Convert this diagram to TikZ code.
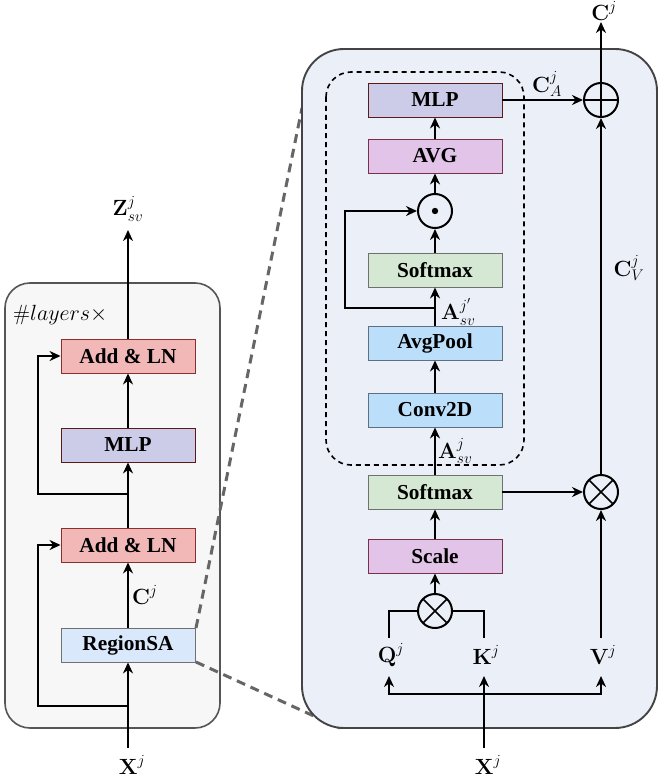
\RequirePackage{fix-cm}
\documentclass[tikz,border=0pt]{standalone}
\usepackage{fontspec}
\newfontfamily\boxfont{Liberation Serif}
\newcommand{\bvec}[1]{\textbf{#1}}
\usetikzlibrary{arrows.meta}
\definecolor{leftbg}{HTML}{F7F7F7}
\definecolor{leftbd}{HTML}{555555}
\definecolor{rightbg}{HTML}{EBEFF8}
\definecolor{rightbd}{HTML}{444444}
\definecolor{addfill}{HTML}{F2B8B8}
\definecolor{addbd}{HTML}{8B2E2E}
\definecolor{mlpfill}{HTML}{CCCCE8}
\definecolor{mlpbd}{HTML}{5A1A1A}
\definecolor{rsafill}{HTML}{DAE8FC}
\definecolor{grbd}{HTML}{707070}
\definecolor{avgfill}{HTML}{E1C4E8}
\definecolor{avgbd}{HTML}{7A2E4A}
\definecolor{smfill}{HTML}{D5E8D4}
\definecolor{convfill}{HTML}{BBDEFB}
\definecolor{convbd}{HTML}{5F6F80}
\definecolor{zoomln}{HTML}{666666}
\begin{document}
\begin{tikzpicture}[x=1pt,y=-1pt, font=\fontsize{22}{26}\selectfont,
 box/.style={draw, line width=0.9pt, minimum width=134pt, minimum height=34pt, inner sep=0pt,
   font=\fontsize{21.3}{24}\selectfont\boxfont\bfseries},
 arr/.style={line width=2pt, -{Stealth[length=11pt,width=10pt]}},
 ln/.style={line width=2pt},
 op/.style={circle, draw, line width=2pt, minimum size=34pt, inner sep=0pt},
 otimesop/.style={op, path picture={\draw[line width=1.7pt] (path picture bounding box.north west) -- (path picture bounding box.south east) (path picture bounding box.north east) -- (path picture bounding box.south west);}},
 oplusop/.style={op, path picture={\draw[line width=1.7pt] (path picture bounding box.north) -- (path picture bounding box.south) (path picture bounding box.west) -- (path picture bounding box.east);}},
 odotop/.style={op, path picture={\fill (path picture bounding box.center) circle (3.2pt);}},
 lbl/.style={inner sep=1pt}]
\useasboundingbox (0,0) rectangle (664,781);

% panels
\draw[fill=leftbg, draw=leftbd, line width=1.6pt, rounded corners=25pt] (5,283) rectangle (220,728);
\draw[zoomln, line width=3pt, dash pattern=on 9pt off 6pt] (196,628) -- (302,108);
\draw[zoomln, line width=3pt, dash pattern=on 9pt off 6pt] (196,662) -- (340,728);
\draw[fill=rightbg, draw=rightbd, line width=1.9pt, rounded corners=42pt] (302,49) rectangle (657,728);
\draw[line width=1.6pt, dash pattern=on 5pt off 4pt, rounded corners=25pt] (326,72) rectangle (524,465);

% left column
\node[lbl, anchor=west] (layers) at (12,315) {$\#layers\times$};
\node[box, fill=addfill, draw=addbd] (add1) at (128,356) {Add \& LN};
\node[box, fill=mlpfill, draw=mlpbd] (mlpl) at (128,445) {MLP};
\node[box, fill=addfill, draw=addbd] (add2) at (128,545) {Add \& LN};
\node[box, fill=rsafill, draw=grbd] (rsa) at (128,645) {RegionSA};
\node[lbl] (zl) at (128,209) {$\bvec{Z}^j_{sv}$};
\node[lbl] (xl) at (132,765) {$\bvec{X}^j$};
\coordinate (xlt) at (128,748);
\coordinate (j1) at (128,706);
\coordinate (j2) at (128,494);
\draw[arr] (xlt) -- (rsa.south);
\draw[arr] (j1) -- (38,706) |- (add2.west);
\draw[arr] (rsa.north) -- node[lbl, right, xshift=2pt] (cl) {$\bvec{C}^j$} (add2.south);
\draw[arr] (add2.north) -- (mlpl.south);
\draw[arr] (j2) -- (38,494) |- (add1.west);
\draw[arr] (mlpl.north) -- (add1.north |- add1.south);
\draw[arr] (add1.north) -- (128,230);

% right column
\node[box, fill=mlpfill, draw=mlpbd] (mlpr) at (435,100) {MLP};
\node[box, fill=avgfill, draw=avgbd] (avg) at (435,156) {AVG};
\node[odotop] (dot) at (435,211) {};
\node[box, fill=smfill, draw=grbd] (sm1) at (435,270) {Softmax};
\node[box, fill=convfill, draw=convbd] (pool) at (435,343) {AvgPool};
\node[box, fill=convfill, draw=convbd] (conv) at (435,410) {Conv2D};
\node[box, fill=smfill, draw=grbd] (sm2) at (435,492) {Softmax};
\node[box, fill=avgfill, draw=avgbd] (scale) at (435,556) {Scale};
\node[otimesop] (mul1) at (435,611) {};
\node[otimesop] (mul2) at (601,492) {};
\node[oplusop] (add) at (601,100) {};
\node[lbl] (q) at (391,655) {$\bvec{Q}^j$};
\node[lbl] (k) at (486,655) {$\bvec{K}^j$};
\node[lbl] (v) at (603,655) {$\bvec{V}^j$};
\node[lbl] (xr) at (488,765) {$\bvec{X}^j$};
\node[lbl] (cout) at (604,11) {$\bvec{C}^j$};
\coordinate (xrt) at (484,748);
\coordinate (jb) at (484,694);
\coordinate (j3) at (435,308);

\draw[arr] (xrt) -- (484,676);
\draw[arr] (jb) -| (389,676);
\draw[arr] (jb) -| (601,676);
\draw[ln] (389,638) |- (mul1.west);
\draw[ln] (484,638) |- (mul1.east);
\draw[arr] (mul1.north) -- (scale.south);
\draw[arr] (scale.north) -- (sm2.south);
\draw[arr] (sm2.north) -- (conv.south);
\node[lbl, anchor=west] (asv) at (437,451) {$\bvec{A}^j_{sv}$};
\draw[arr] (conv.north) -- (pool.south);
\draw[arr] (pool.north) -- (sm1.south);
\node[lbl, anchor=west] (asvp) at (440,312) {$\bvec{A}^{j'}_{sv}$};
\draw[arr] (j3) -- (345,308) |- (dot.west);
\draw[arr] (sm1.north) -- (dot.south);
\draw[arr] (dot.north) -- (avg.south);
\draw[arr] (avg.north) -- (mlpr.south);
\draw[arr] (mlpr.east) -- (add.west);
\node[lbl] (ca) at (547,84) {$\bvec{C}^j_A$};
\draw[arr] (sm2.east) -- (mul2.west);
\draw[arr] (601,638) -- (mul2.south);
\draw[arr] (mul2.north) -- (add.south);
\node[lbl] (cv) at (629,268) {$\bvec{C}^j_V$};
\draw[arr] (add.north) -- (601,22);
\end{tikzpicture}
\end{document}
